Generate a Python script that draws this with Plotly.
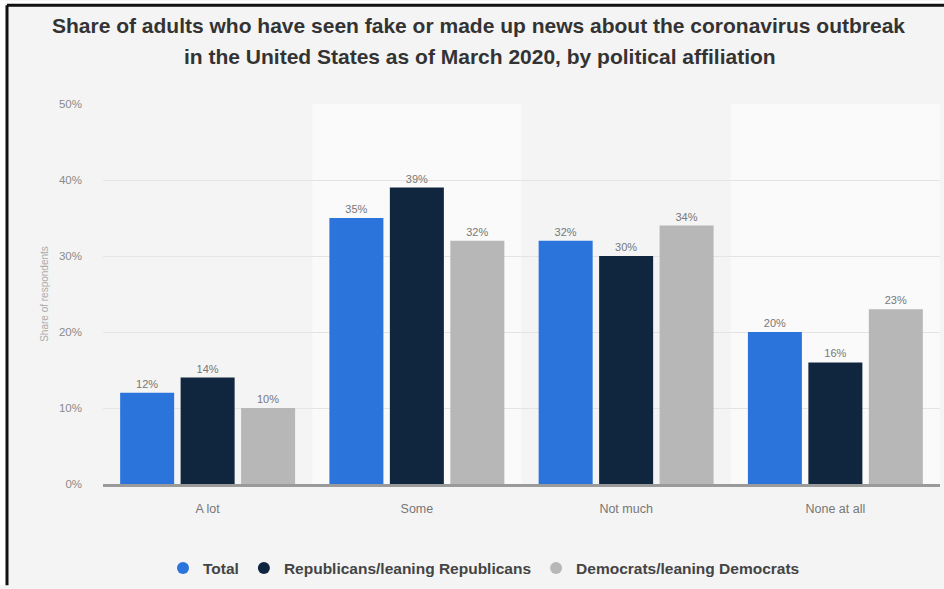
import plotly.graph_objects as go

categories = ["A lot", "Some", "Not much", "None at all"]
series_names = ["Total", "Republicans/leaning Republicans", "Democrats/leaning Democrats"]
total = [12, 35, 32, 20]
republicans = [14, 39, 30, 16]
democrats = [10, 32, 34, 23]
y_ticks = [0, 10, 20, 30, 40, 50]
y_tick_labels = ["0%", "10%", "20%", "30%", "40%", "50%"]

colors = ["#2a74dc", "#10263f", "#b7b7b7"]
values = [total, republicans, democrats]

W, H = 944, 589
L, R, T, B = 103, 4, 104, 102
pw, ph = W - L - R, H - T - B

def px2x(px):
    return (px - L) / pw

def py2y(py):
    return (H - B - py) / ph

fig = go.Figure()
for name, vals, col in zip(series_names, values, colors):
    fig.add_trace(go.Bar(
        x=categories, y=vals, name=name, marker=dict(color=col, line=dict(width=0)),
        text=[f"{v}%" for v in vals], textposition="outside",
        textfont=dict(family="Liberation Sans", size=11, color="#777"),
        cliponaxis=False, showlegend=False))
for name, col in zip(series_names, colors):
    fig.add_trace(go.Scatter(
        x=[None], y=[None], mode="markers", name=name,
        marker=dict(symbol="circle", size=12, color=col)))

shapes = []
# alternating lighter category bands
for i in (1, 3):
    shapes.append(dict(type="rect", xref="x", yref="paper", x0=i - 0.5, x1=i + 0.5,
                       y0=0, y1=1, fillcolor="#fafafa", line=dict(width=0), layer="below"))
# frame: white outer strips and black border lines
shapes.append(dict(type="rect", xref="paper", yref="paper", x0=px2x(0), x1=px2x(6),
                   y0=py2y(H), y1=py2y(0), fillcolor="white", line=dict(width=0)))
shapes.append(dict(type="rect", xref="paper", yref="paper", x0=px2x(0), x1=px2x(W),
                   y0=py2y(3), y1=py2y(0), fillcolor="white", line=dict(width=0)))
shapes.append(dict(type="line", xref="paper", yref="paper", x0=px2x(7), x1=px2x(W),
                   y0=py2y(4.5), y1=py2y(4.5), line=dict(color="#111", width=3)))
shapes.append(dict(type="line", xref="paper", yref="paper", x0=px2x(7), x1=px2x(7),
                   y0=py2y(H), y1=py2y(4.5), line=dict(color="#111", width=3)))

annotations = [
    dict(text="<b>Share of adults who have seen fake or made up news about the coronavirus outbreak</b>",
         xref="paper", yref="paper", x=px2x(478), y=py2y(25), showarrow=False,
         xanchor="center", yanchor="middle",
         font=dict(family="Liberation Sans", size=21, color="#333")),
    dict(text="<b>in the United States as of March 2020, by political affiliation</b>",
         xref="paper", yref="paper", x=px2x(480), y=py2y(56), showarrow=False,
         xanchor="center", yanchor="middle",
         font=dict(family="Liberation Sans", size=21, color="#333")),
]

fig.update_layout(
    width=W, height=H,
    margin=dict(l=L, r=R, t=T, b=B, pad=0),
    paper_bgcolor="#f4f4f4", plot_bgcolor="#f4f4f4",
    barmode="group", bargap=0.133, bargroupgap=0.107,
    shapes=shapes, annotations=annotations,
    font=dict(family="Liberation Sans", color="#666"),
    legend=dict(orientation="h", x=px2x(484), y=py2y(572), xanchor="center", yanchor="middle",
                font=dict(family="Liberation Sans", size=15.5, color="#444", weight="bold"),
                bgcolor="rgba(0,0,0,0)", itemwidth=30),
    xaxis=dict(showgrid=False, showline=True, linecolor="#9a9a9a", linewidth=3,
               tickfont=dict(size=12.5, color="#777"), ticks="", ticklabelstandoff=11,
               fixedrange=True),
    yaxis=dict(range=[0, 50], tickvals=y_ticks, ticktext=y_tick_labels,
               showgrid=True, gridcolor="#e4e4e4", gridwidth=1, zeroline=False,
               tickfont=dict(size=11.5, color="#8a8a8a"), ticklabelstandoff=20,
               title=dict(text="Share of respondents", font=dict(size=10, color="#aaa"), standoff=8)),
)

fig.write_html("out.html")
